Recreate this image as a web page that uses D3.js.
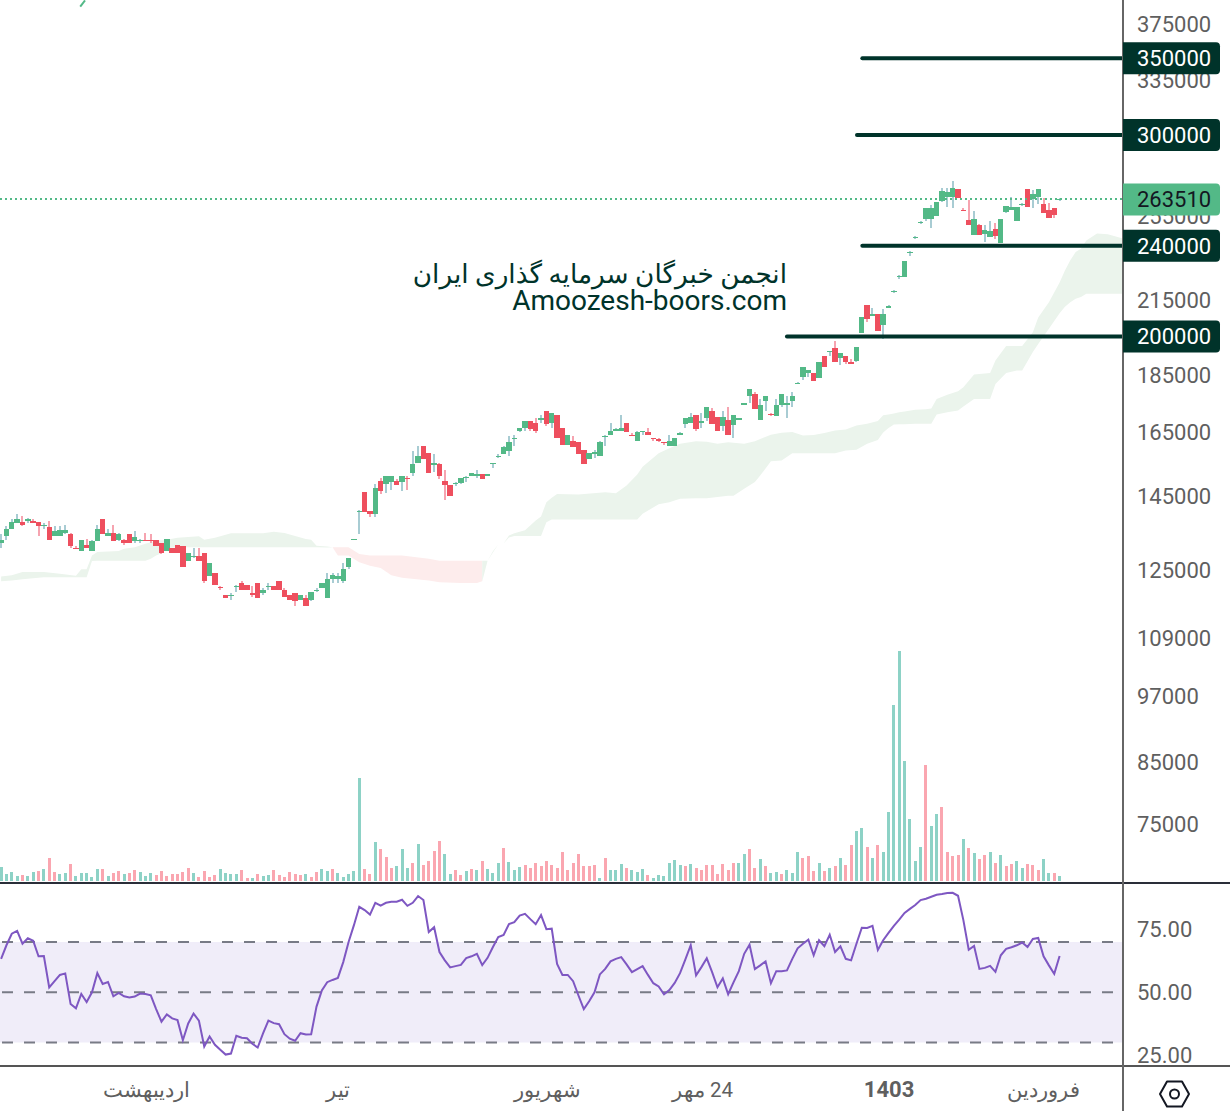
<!DOCTYPE html>
<html lang="fa">
<head>
<meta charset="utf-8">
<title>Chart</title>
<script src="https://cdn.jsdelivr.net/npm/d3@7/dist/d3.min.js"></script>
<style>
html,body{margin:0;padding:0;background:#fff;}
svg{display:block;font-family:Roboto,"Noto Sans",sans-serif;}
</style>
</head>
<body>
<svg id="chart" width="1230" height="1111"></svg>
<script>
// Prices in thousands of rials
const opens = [
132.1,134.0,135.7,137.3,137.6,137.9,138.1,137.6,136.5,136.2,
134.0,134.0,134.6,134.3,130.8,130.0,131.4,130.0,132.4,138.4,
134.0,134.8,132.9,132.7,134.3,132.4,132.7,132.9,132.7,132.7,
132.1,130.0,130.8,131.6,131.1,127.4,128.5,128.7,129.3,123.4,
124.2,120.7,119.0,118.8,120.7,121.9,121.2,119.3,121.9,119.3,
120.7,121.0,122.4,120.2,118.8,119.3,117.8,118.1,117.8,120.0,
120.5,118.1,122.9,122.9,122.4,125.7,132.9,140.7,146.4,140.7,
139.8,149.4,148.5,149.1,149.4,149.1,150.3,152.1,154.9,160.3,
158.1,154.3,154.6,149.4,148.2,148.5,148.8,150.3,150.9,151.2,
151.8,151.2,154.6,157.1,157.8,158.7,162.6,165.5,166.5,168.6,
167.9,169.2,172.0,167.9,170.9,166.2,160.9,162.2,161.9,159.3,
156.2,157.8,157.4,163.3,164.2,165.2,165.5,167.9,164.2,162.2,
164.9,164.9,162.9,162.6,161.6,160.3,160.3,164.2,167.6,168.2,
170.6,167.9,169.9,172.3,170.2,166.9,169.2,167.3,169.2,174.4,
177.6,178.3,169.2,175.5,171.0,170.3,174.1,174.4,175.5,182.0,
184.2,185.7,186.0,183.8,192.1,193.7,195.6,191.7,192.1,189.8,
190.2,201.2,212.9,208.2,209.1,204.5,212.0,218.5,225.2,225.2,
236.4,243.6,251.1,253.1,253.1,254.6,262.4,264.6,264.6,268.9,
258.2,252.6,245.1,250.1,245.6,244.1,248.1,241.2,256.7,258.2,
252.1,260.3,268.9,263.5,264.6,260.9,258.2,258.8,263.0];
const highs = [
134.3,136.5,138.4,139.8,139.5,138.7,138.4,137.6,137.3,137.9,
136.5,136.5,136.8,134.8,131.1,132.7,133.2,132.9,136.8,138.4,
135.7,136.8,134.6,133.2,134.3,135.1,133.2,134.6,134.3,132.7,
132.1,133.2,130.8,131.6,131.1,129.5,130.6,130.6,129.3,126.7,
124.2,121.0,119.0,119.3,121.2,122.2,121.2,121.0,121.9,120.5,
121.9,121.0,122.4,120.5,118.8,119.3,118.8,118.8,119.7,120.5,
121.9,124.2,124.2,124.2,126.7,128.2,133.2,141.2,146.4,140.7,
148.5,150.3,150.9,150.9,150.0,151.2,151.2,158.7,160.3,160.3,
158.1,157.8,154.9,153.0,148.2,149.1,150.3,150.9,152.1,153.0,
151.8,151.8,155.2,157.8,160.6,163.6,164.2,166.2,168.6,168.6,
169.9,170.6,172.0,171.3,170.9,166.2,163.9,163.6,161.9,159.3,
158.1,159.3,162.2,163.9,167.9,166.5,170.9,167.9,164.6,165.2,
165.5,166.2,163.2,162.9,161.9,163.9,162.9,164.9,169.6,171.6,
170.6,171.3,173.7,173.3,170.2,172.0,173.7,170.9,169.9,175.1,
180.1,178.7,176.2,177.3,171.3,176.2,178.0,177.3,178.7,182.6,
187.9,186.8,186.0,189.8,192.1,194.1,198.0,193.3,192.1,191.0,
196.0,207.8,212.9,211.6,209.1,211.2,212.9,219.4,226.2,232.6,
237.3,244.6,252.1,258.8,260.3,261.9,269.4,269.4,273.2,268.9,
258.8,263.0,257.2,250.6,250.1,252.1,251.1,253.1,259.8,264.6,
259.3,261.4,268.9,268.3,268.9,264.0,261.4,258.8,264.0];
const lows = [
130.6,132.9,135.7,137.3,136.5,137.3,137.3,134.0,135.9,132.9,
134.0,134.0,134.3,130.8,130.3,130.0,130.6,130.0,132.4,134.3,
134.0,132.4,132.4,131.6,131.9,132.1,131.9,132.4,132.1,131.1,
129.0,130.0,129.3,129.3,125.9,127.4,128.0,127.4,121.7,123.4,
121.4,120.2,118.1,117.6,119.5,120.2,120.0,118.5,118.1,119.0,
120.2,120.2,120.0,118.5,117.6,116.4,117.8,116.2,117.4,119.5,
120.5,118.1,121.7,121.9,121.7,125.2,132.9,134.3,140.4,139.2,
139.2,145.8,146.1,147.0,148.2,146.7,147.0,151.2,154.9,156.2,
152.1,152.4,150.0,143.8,145.2,147.9,148.5,149.1,150.9,150.3,
150.0,151.2,153.4,156.5,157.8,157.1,160.6,164.9,165.2,165.2,
164.6,168.2,167.2,166.2,162.9,160.9,160.9,160.0,157.8,154.6,
156.2,156.5,157.4,160.3,164.2,165.2,165.5,164.9,163.6,162.2,
163.9,163.9,162.2,161.9,160.9,160.3,160.3,163.9,166.2,168.2,
165.5,166.2,168.6,167.6,165.2,165.5,163.9,162.9,168.9,174.1,
174.8,172.7,169.2,172.3,170.3,170.3,173.4,169.9,173.7,181.7,
183.4,184.2,182.7,183.8,187.9,192.1,189.8,188.7,189.4,189.1,
189.8,201.2,205.7,208.2,202.4,198.8,211.6,218.1,224.7,225.2,
235.0,243.1,250.6,252.1,248.6,254.6,261.9,259.3,258.8,264.0,
257.2,250.1,245.1,245.1,241.7,244.1,243.1,241.2,256.2,258.2,
252.1,259.8,259.3,258.8,260.9,256.2,253.6,253.6,262.4];
const closes = [
132.7,135.7,137.6,138.4,136.8,138.4,137.3,136.5,136.8,132.9,
135.1,135.4,135.4,131.1,130.6,132.7,130.6,132.4,135.9,134.3,
134.8,132.4,134.3,132.1,132.1,133.5,132.9,132.7,132.4,131.1,
129.3,133.2,129.3,129.3,125.9,129.5,128.7,127.4,122.4,126.7,
121.4,120.5,118.1,119.0,121.0,120.2,120.0,119.0,118.1,120.0,
121.0,120.2,120.2,118.5,117.6,117.4,118.8,116.2,119.7,120.2,
121.9,122.9,123.7,123.4,125.2,128.2,133.2,140.9,140.4,139.8,
147.3,146.7,150.9,150.9,148.2,151.2,150.0,154.6,157.1,156.2,
152.1,155.2,150.9,148.2,145.2,148.8,150.3,150.6,152.1,151.8,
150.0,151.8,154.9,157.4,160.0,161.9,162.9,166.2,168.6,165.9,
165.5,169.6,167.6,171.3,162.9,160.9,163.9,160.0,157.8,154.6,
158.1,158.4,161.9,163.6,165.2,165.9,166.2,164.9,163.9,164.9,
165.2,163.9,162.6,162.2,161.3,162.2,162.9,164.6,169.6,170.2,
165.9,168.6,173.7,167.6,165.2,170.2,163.9,170.9,169.6,174.8,
179.8,172.7,174.1,177.3,170.6,174.4,178.0,174.8,177.6,182.3,
187.9,186.8,182.7,189.8,187.9,194.1,189.8,193.3,189.8,189.4,
196.0,207.8,207.0,209.1,202.4,209.1,212.5,219.0,225.7,232.6,
236.9,244.1,251.6,258.8,258.8,261.9,267.8,267.2,269.4,264.0,
257.7,250.1,253.1,245.1,247.6,247.1,244.6,253.1,259.8,259.3,
259.3,260.9,259.3,266.2,268.9,256.2,253.6,255.2,263.5];

const volumes = [
42,21,27,15,18,15,27,30,36,69,
27,21,24,51,15,24,24,12,36,36,
15,24,30,21,24,33,27,15,24,18,
30,15,21,21,27,39,24,12,30,12,
18,36,24,21,21,33,9,9,21,15,
18,33,18,12,27,21,18,21,12,27,
36,30,36,24,12,21,30,309,36,21,
117,96,72,39,45,96,39,54,111,48,
60,90,120,81,21,33,18,30,36,33,
60,36,24,54,99,57,33,42,48,39,
54,45,60,48,39,87,33,54,81,45,45,
48,9,69,33,33,51,39,33,27,36,
18,9,18,15,54,63,48,45,51,39,
33,48,48,21,51,33,54,54,81,96,
39,66,45,24,27,21,33,24,87,69,
75,30,54,30,39,45,69,48,108,150,
159,102,69,108,87,207,528,690,360,186,
60,102,348,165,201,222,87,75,78,126,
99,84,66,78,87,54,78,45,51,60,
39,51,48,33,66,24,24,15];
const volumeDirections = (
"ggggrggrgr rggrgggggr grrgrrgggr rrrrrrgrrr rggggrrgrg grrrrrrgrr ggrggggg rr"+
"grrrgggrgr rrrggrrgrg rgggrgggrr r"+
"rrrrrrrrrr rgrgggrggg rgggggg rgr rrrrrrrggr rgrggrgggr rrgrgrgrrg grgrggggggg"+
"grggrrrrg rgrrgrgrrg grrrggrg").replace(/ /g,"");

const rsiValues = [
63.3,68.7,73.3,74.4,69.3,71.5,70.5,64.3,64.4,51.9,
54.4,56.9,57.5,45.3,43.6,49.3,46.1,50.0,57.6,53.3,
54.1,48.4,49.7,48.4,47.9,48.3,49.5,49.3,48.8,43.3,
38.3,41.2,39.6,38.9,30.9,37.6,41.5,38.7,28.4,32.4,
29.1,27.1,25.2,25.6,32.7,31.9,31.7,29.5,28.0,33.6,
38.7,37.7,37.3,33.3,31.5,30.7,33.7,33.2,33.3,44.3,
50.7,54.0,54.9,55.7,62.0,70.0,76.7,84.0,82.7,80.9,
85.6,84.5,85.6,86.0,86.0,86.8,84.4,85.6,88.3,86.7,
74.0,75.9,66.0,62.7,59.9,60.4,60.9,63.6,64.3,65.3,
60.8,63.7,68.0,72.0,72.8,77.1,77.9,80.5,81.2,79.1,
77.1,80.7,75.1,75.3,61.3,56.9,56.9,54.4,48.7,43.3,
46.4,50.0,57.1,59.3,62.3,63.3,64.0,61.1,58.0,59.2,
60.4,56.9,53.6,52.3,49.2,50.9,53.7,57.6,63.1,68.7,
56.7,60.0,63.5,58.0,52.0,55.5,49.2,53.9,58.4,65.3,
68.9,59.2,60.7,62.3,53.6,58.4,58.4,58.7,63.3,67.5,
69.3,70.9,64.7,70.7,68.3,72.9,66.0,68.3,63.3,62.7,
69.3,75.7,75.6,76.4,66.8,70.7,73.6,76.4,78.9,81.6,
83.2,84.7,86.7,87.2,88.0,88.8,89.1,89.5,89.6,88.4,
78.7,66.9,68.4,59.3,59.7,60.5,58.1,64.7,67.3,67.9,
68.7,69.8,68.0,71.2,71.6,64.3,60.7,57.3,64.4];

const cloudIndex = [0,2,4,8,11,14,15,16,17,18,22,23,25,27,28,29,30,31,33,37,38,40,43,49,51,53,57,58,59,61,62,
63,65,67,69,71,73,75,80,82,86,89,90,
91,92,93,94,95,96,98,100,101,102,103,104,108,113,115,117,119,120,123,125,127,130,132,134,136,137,139,141,142,144,146,148,150,152,154,156,158,160,162,164,165,166,167,168,169,171,173,174,175,177,179,180,182,185,186,188,190,191,193,194,196,198,199,200,201,202,203,205,207,210];
const cloudSpanA = [123.4,123.7,124.5,124.5,124.1,123.6,125.2,125.2,128.7,129.6,129.9,130.5,130.9,131.8,132.2,132.7,132.7,132.9,133.4,133.8,132.9,133.4,134.6,134.6,135.0,134.7,133.1,132.9,131.3,131.1,130.9,
128.7,128.7,127.0,126.1,125.5,123.7,123.1,122.4,122.0,121.8,121.8,122.2,
127.4,129.8,131.6,131.9,134.0,134.6,135.4,138.1,139.2,143.3,144.6,145.7,145.5,146.2,145.9,148.2,151.5,153.9,158.1,159.7,161.2,162.0,161.8,161.2,161.7,161.5,161.2,162.0,162.7,164.1,164.8,165.0,163.9,164.0,164.7,165.5,165.9,167.2,167.8,168.7,170.7,170.9,171.3,171.7,172.0,172.6,172.8,173.0,176.4,177.9,179.1,180.6,185.3,185.8,190.6,196.2,196.2,196.2,201.7,207.8,214.3,222.9,228.4,233.1,237.0,238.6,242.6,246.0,245.7,243.5];
const cloudSpanB = [122.2,122.4,122.7,123.2,123.2,123.2,123.2,123.2,127.3,127.4,127.4,127.4,127.4,127.4,127.9,128.7,129.3,130.7,130.9,130.9,130.9,130.9,130.9,130.9,130.9,130.9,130.9,130.9,130.9,130.8,130.9,
130.9,130.9,129.1,128.7,128.7,128.7,128.7,127.9,127.4,127.4,127.4,127.4,
127.4,129.5,131.6,131.9,133.5,133.9,133.9,133.9,133.9,137.6,138.4,138.4,138.4,138.4,138.4,138.4,138.4,140.0,142.7,143.3,144.3,144.4,144.4,144.8,145.2,145.2,147.2,149.2,151.2,155.6,155.8,158.1,158.1,158.1,158.1,158.1,159.0,159.2,161.2,162.4,164.9,166.4,167.5,167.6,167.6,167.8,167.8,167.8,170.9,171.7,172.3,173.7,176.4,176.4,181.8,185.8,186.8,186.8,193.8,197.0,203.1,209.6,212.3,214.3,215.8,216.5,218.0,218.0,218.0,218.0];

const priceTicks = [375000,335000,295000,255000,215000,185000,165000,145000,125000,109000,97000,85000,75000];
const rsiTicks = [75,50,25];
const rsiBands = [70,50,30];
const levelPrices = [350000,300000,240000,200000];
const levelStartIndex = [161.1,160.1,161.1,147];
const lastPrice = 263510;
const timeTickIndex = [27.1,63,102.1,131.1,166,194.9];
const timeTickLabels = ["اردیبهشت","تیر","شهریور","24 مهر","1403","فروردین"];
const watermarkLines = ["انجمن خبرگان سرمایه گذاری ایران","Amoozesh-boors.com"];
const offscreenIndex = [14.8,15.7];
const offscreenPrice = [388.3,393.2];

const W=1230,H=1111,axisX=1123,paneBottom=883,rsiBottom=1066;
const GREEN="#53b987",RED="#ee4f5e",GREEN_WICK="#a8ccd3",RED_WICK="#f6a4b0",
      GREEN_VOL="#8dd2c6",RED_VOL="#faa6b0",DARK="#00332a",AXIS="#666",TEXT="#5f5f5f";
const K=1000;

const x=d3.scaleLinear().domain([0,198]).range([1.1,1059.6]);
const y=d3.scaleLog().domain([75000,350000]).range([824,58.3]);
const vy=d3.scaleLinear().domain([0,690]).range([881,651]);
const ry=d3.scaleLinear().domain([30,70]).range([1042.5,942]);

const svg=d3.select("#chart");
const defs=svg.append("defs");
defs.append("clipPath").attr("id","main").append("rect").attr("x",0).attr("y",0).attr("width",axisX).attr("height",paneBottom);
const main=svg.append("g").attr("clip-path","url(#main)");

// Cloud
const cloud=cloudIndex.map((d,i)=>({i:d,a:cloudSpanA[i],b:cloudSpanB[i]}));
const segs=[];let cur=null;
cloud.forEach(d=>{
  const up=d.a>=d.b;
  if(!cur||cur.up!==up){
    const s={up,pts:[]};
    if(cur){s.pts.push(cur.pts[cur.pts.length-1]);}
    segs.push(s);cur=s;
  }
  cur.pts.push(d);
});
const area=d3.area().x(d=>x(d.i)).y0(d=>y(d.a*K)).y1(d=>y(d.b*K));
main.selectAll("path.cloud").data(segs).join("path").attr("class","cloud")
  .attr("d",s=>area(s.pts)).attr("fill",s=>s.up?"#ebf4ec":"#fdecec");

// Volume
main.append("g").attr("shape-rendering","crispEdges").selectAll("rect").data(volumes).join("rect")
  .attr("x",(d,i)=>x(i)-1.5).attr("width",3)
  .attr("y",d=>vy(d)).attr("height",d=>vy(0)-vy(d))
  .attr("fill",(d,i)=>volumeDirections[i]==="g"?GREEN_VOL:RED_VOL);

// Candles
const candles=opens.map((o,i)=>({i,o:o*K,h:highs[i]*K,l:lows[i]*K,c:closes[i]*K}));
const cg=main.append("g").attr("shape-rendering","crispEdges");
cg.selectAll("rect.w").data(candles).join("rect").attr("class","w")
  .attr("x",d=>x(d.i)-1).attr("width",2)
  .attr("y",d=>y(d.h)).attr("height",d=>Math.max(1,y(d.l)-y(d.h)))
  .attr("fill",d=>d.c>=d.o?GREEN_WICK:RED_WICK);
cg.selectAll("rect.b").data(candles).join("rect").attr("class","b")
  .attr("x",d=>x(d.i)-2.7).attr("width",5.4)
  .attr("y",d=>y(Math.max(d.o,d.c))).attr("height",d=>Math.max(1,Math.abs(y(d.o)-y(d.c))))
  .attr("fill",d=>d.c>=d.o?GREEN:RED);

// Sliver of a mark that leaves the top of the frame
main.append("path")
  .attr("d",d3.line().x(d=>x(d)).y((d,i)=>y(offscreenPrice[i]*K))(offscreenIndex))
  .attr("fill","none").attr("stroke",GREEN).attr("stroke-width",2);

// Last price line
main.append("line").attr("x1",0).attr("x2",axisX).attr("y1",y(lastPrice)).attr("y2",y(lastPrice))
  .attr("stroke",GREEN).attr("stroke-width",2).attr("stroke-dasharray","2 3").attr("shape-rendering","crispEdges");

// Watermark
const wm=svg.append("g").attr("fill",DARK).attr("text-anchor","end");
wm.append("text").attr("x",787).attr("y",283).attr("font-size",26.3).attr("text-rendering","geometricPrecision").text(watermarkLines[0]);
wm.append("text").attr("x",787).attr("y",310).attr("font-size",28).text(watermarkLines[1]);

// Levels
svg.append("g").selectAll("line").data(levelPrices).join("line")
  .attr("x1",(d,i)=>x(levelStartIndex[i])).attr("x2",axisX)
  .attr("y1",d=>y(d)).attr("y2",d=>y(d))
  .attr("stroke",DARK).attr("stroke-width",4).attr("stroke-linecap","round");

// RSI pane
svg.append("rect").attr("x",0).attr("width",axisX).attr("y",ry(70)).attr("height",ry(30)-ry(70)).attr("fill","#f0edf9");
svg.append("g").selectAll("line").data(rsiBands).join("line")
  .attr("x1",2).attr("x2",axisX).attr("y1",d=>ry(d)).attr("y2",d=>ry(d))
  .attr("stroke","#787b86").attr("stroke-width",2).attr("stroke-dasharray","11 11");
svg.append("path")
  .attr("d",d3.line().x((d,i)=>x(i)).y(d=>ry(d))(rsiValues))
  .attr("fill","none").attr("stroke","#7e57c2").attr("stroke-width",2);

// Frame lines
const frame=svg.append("g");
frame.append("line").attr("x1",0).attr("x2",W).attr("y1",paneBottom).attr("y2",paneBottom).attr("stroke","#2a2e39").attr("stroke-width",2);
frame.append("line").attr("x1",0).attr("x2",W).attr("y1",rsiBottom).attr("y2",rsiBottom).attr("stroke","#555").attr("stroke-width",2);
frame.append("line").attr("x1",axisX).attr("x2",axisX).attr("y1",0).attr("y2",H).attr("stroke",AXIS).attr("stroke-width",2);

// Axes
function style(g,size){
  g.call(s=>s.select(".domain").remove());
  g.selectAll("text").attr("fill",TEXT).attr("font-size",size).attr("font-family","Roboto,'Noto Sans',sans-serif");
}
svg.append("g").attr("transform","translate(1137,0.3)")
  .call(d3.axisRight(y).tickValues(priceTicks).tickFormat(d3.format("d")).tickSize(0).tickPadding(0))
  .call(g=>style(g,22));
svg.append("g").attr("transform","translate(1137,0)")
  .call(d3.axisRight(ry).tickValues(rsiTicks).tickFormat(d3.format(".2f")).tickSize(0).tickPadding(0))
  .call(g=>style(g,22));
svg.append("g").attr("transform","translate(0,1090)")
  .call(d3.axisBottom(x).tickValues(timeTickIndex).tickFormat((d,i)=>timeTickLabels[i]).tickSize(0).tickPadding(0))
  .call(g=>style(g,20.5))
  .call(g=>g.selectAll("text").attr("dy",".32em").attr("y",0).attr("direction","rtl")
     .attr("font-size",(d,i)=>timeTickLabels[i]==="1403"?22:20.5)
     .attr("font-weight",(d,i)=>timeTickLabels[i]==="1403"?"700":"400"));

// Price flags
const flags=levelPrices.map(p=>({p,fill:DARK,color:"#fff"})).concat([{p:lastPrice,fill:GREEN,color:"#131722"}]);
const fg=svg.append("g").selectAll("g").data(flags).join("g").attr("transform",d=>`translate(${axisX},${y(d.p)})`);
fg.append("path").attr("d","M0,-16H93a4,4 0 0 1 4,4V12a4,4 0 0 1 -4,4H0Z").attr("fill",d=>d.fill);
fg.append("text").attr("x",14).attr("dy",".35em").attr("font-size",22).attr("fill",d=>d.color).text(d=>d.p);

// Settings hexagon
const hex=svg.append("g").attr("transform","translate(1174.5,1094)").attr("fill","none").attr("stroke","#131722").attr("stroke-width",2);
hex.append("path").attr("d","M-14.5,0L-7.5,-12.5H7.5L14.5,0L7.5,12.5H-7.5Z").attr("stroke-linejoin","round");
hex.append("circle").attr("r",4.5);
</script>
</body>
</html>
